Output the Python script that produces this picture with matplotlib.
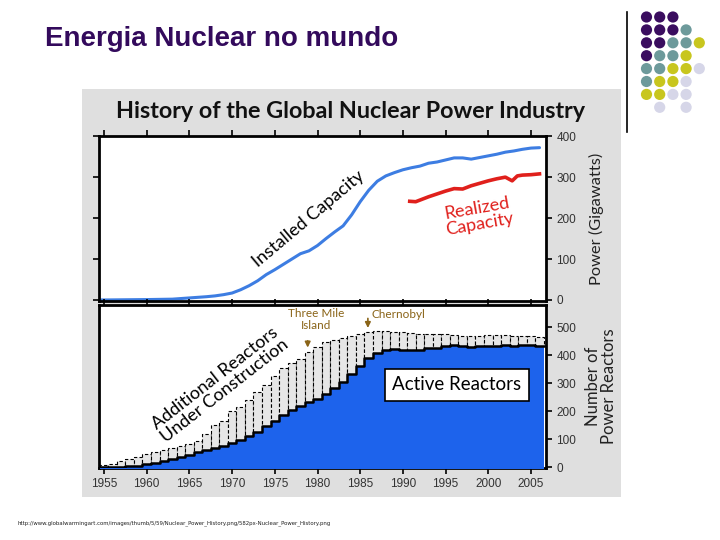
import numpy as np
import matplotlib.pyplot as plt
from matplotlib.patches import Rectangle, Circle

# installed capacity (GW)
cap_years = [1954.4, 1955, 1960, 1963, 1965, 1967, 1968, 1969, 1970, 1971, 1972, 1973,
             1974, 1975, 1976, 1977, 1978, 1979, 1980, 1981, 1982, 1983, 1984, 1985,
             1986, 1987, 1988, 1989, 1990, 1991, 1992, 1993, 1994, 1995, 1996, 1997,
             1998, 1999, 2000, 2001, 2002, 2003, 2004, 2005, 2006]
cap_installed = [0, 0, 1, 2, 5, 8, 10, 13, 17, 25, 35, 47,
                 62, 74, 87, 100, 113, 120, 133, 150, 166, 181, 208, 240,
                 268, 290, 303, 311, 318, 323, 327, 334, 337, 342, 347, 347,
                 344, 348, 352, 356, 361, 364, 368, 371, 372]

real_years = [1990.8, 1991.5, 1992, 1993, 1994, 1995, 1996, 1997, 1998, 1999, 2000,
              2001, 2002, 2002.8, 2003.4, 2004, 2005, 2006]
cap_realized = [241, 240, 244, 252, 259, 266, 272, 271, 279, 285, 291,
                296, 300, 291, 303, 305, 306, 308]

# number of reactors
reactor_years = np.arange(1955, 2007)
active = [1, 2, 3, 4, 6, 12, 16, 24, 30, 38, 46, 54, 62, 68, 76, 86, 98, 112, 128, 148,
          166, 186, 204, 220, 232, 246, 262, 282, 304, 334, 362, 390, 408, 420, 424, 420,
          418, 420, 426, 428, 432, 436, 434, 430, 432, 433, 435, 436, 434, 436, 437, 432]
total = [8, 14, 22, 30, 38, 48, 56, 62, 68, 75, 82, 96, 118, 150, 166, 200, 215, 240, 270, 296,
         326, 355, 372, 388, 412, 430, 447, 456, 463, 470, 478, 484, 488, 487, 485, 482,
         480, 478, 478, 476, 475, 474, 471, 469, 470, 472, 472, 473, 470, 470, 469, 467]

xticks = [1955, 1960, 1965, 1970, 1975, 1980, 1985, 1990, 1995, 2000, 2005]

purple = '#3a0d5f'
teal = '#6d9a9b'
yellow = '#c8c61e'
lav = '#d6d6e8'
dot_rows = [
    [purple, purple, purple, None, None],
    [purple, purple, purple, teal, None],
    [purple, purple, teal, teal, yellow],
    [purple, teal, teal, yellow, None],
    [teal, teal, yellow, yellow, lav],
    [teal, yellow, yellow, lav, None],
    [yellow, yellow, lav, lav, None],
    [None, lav, None, lav, None],
]

fig = plt.figure(figsize=(7.2, 5.4), dpi=100)

# slide layer in pixel coords
bg = fig.add_axes([0, 0, 1, 1], zorder=0)
bg.set_xlim(0, 720)
bg.set_ylim(540, 0)
bg.axis('off')
bg.add_patch(Rectangle((82, 89), 539, 408, facecolor='#dfdfdf', edgecolor='none'))
bg.text(45, 46, 'Energia Nuclear no mundo', fontsize=20, fontweight='bold',
        color='#330a5c', family='Liberation Sans', va='baseline')
bg.plot([627, 627], [12, 132], color='black', lw=1.2)
for r, row in enumerate(dot_rows):
    for c, col in enumerate(row):
        if col:
            bg.add_patch(Circle((646.5 + c * 13.2, 17 + r * 12.9), 5.6, color=col, lw=0))
bg.text(351, 111, 'History of the Global Nuclear Power Industry', fontsize=16.8,
        fontweight='bold', family='Lato', ha='center', va='center', color='#111111')
bg.text(18, 523, 'http://www.globalwarmingart.com/images/thumb/5/59/Nuclear_Power_History.png/582px-Nuclear_Power_History.png',
        fontsize=3.9, va='center', color='#222222')

tick_font = dict(family='Liberation Sans', size=8.5, color='#333333')

# top panel: power
ax1 = fig.add_axes([99 / 720, 1 - 301 / 540, 447 / 720, 165 / 540], zorder=2)
ax1.plot(cap_years, cap_installed, color='#3d7de2', lw=2.2, solid_capstyle='round')
ax1.plot(real_years, cap_realized, color='#e0201c', lw=2.6)
ax1.set_xlim(1954.41, 2006.76)
ax1.set_ylim(-2.5, 400.5)
ax1.set_xticks(xticks)
ax1.set_yticks([0, 100, 200, 300, 400])
ax1.tick_params(axis='x', top=True, bottom=False, labelbottom=False, direction='out',
                length=4, width=1.2)
ax1.tick_params(axis='y', left=True, right=True, labelleft=False, labelright=True,
                direction='out', length=4, width=1.2)
for lab in ax1.get_yticklabels():
    lab.set_fontproperties(tick_font['family'])
    lab.set_fontsize(tick_font['size'])
    lab.set_color(tick_font['color'])
for s in ax1.spines.values():
    s.set_linewidth(2)
ax1.yaxis.set_label_position('right')
ax1.set_ylabel('Power (Gigawatts)', family='Lato', fontsize=11.8, color='#222222',
               labelpad=9)
ax1.text(1978.9, 198, 'Installed Capacity', rotation=40, family='Lato', fontsize=13,
         ha='center', va='center', color='black')
ax1.text(1998.8, 205, 'Realized\nCapacity', rotation=10, family='Lato', fontsize=13,
         ha='center', va='center', color='#e0201c', linespacing=1.0)

# bottom panel: reactors
ax2 = fig.add_axes([99 / 720, 1 - 468 / 540, 447 / 720, 163 / 540], zorder=2)
yrs = np.asarray(reactor_years, dtype=float)
act = np.asarray(active, dtype=float)
tot = np.asarray(total, dtype=float)
ax2.bar(yrs, tot - act, bottom=act, width=1.0, color='#e6e6e6', edgecolor='black',
        linestyle=(0, (3, 2)), linewidth=0.8, zorder=2)
edges = np.append(yrs - 0.5, yrs[-1] + 0.5)
act_st = np.append(act, act[-1])
ax2.fill_between(edges, act_st, -5, step='post', color='#1d63ec', lw=0, zorder=3)
ax2.step(edges, act_st, where='post', color='black', lw=1.8, zorder=4)
ax2.set_xlim(1954.41, 2006.76)
ax2.set_ylim(-2, 580)
ax2.set_xticks(xticks)
ax2.set_yticks([0, 100, 200, 300, 400, 500])
ax2.tick_params(axis='x', top=True, bottom=True, direction='out', length=4, width=1.2,
                pad=3)
ax2.tick_params(axis='y', left=False, right=True, labelleft=False, labelright=True,
                direction='out', length=4, width=1.2)
for lab in ax2.get_yticklabels() + ax2.get_xticklabels():
    lab.set_fontproperties(tick_font['family'])
    lab.set_fontsize(tick_font['size'])
    lab.set_color(tick_font['color'])
for s in ax2.spines.values():
    s.set_linewidth(2)
ax2.yaxis.set_label_position('right')
ax2.set_ylabel('Number of\nPower Reactors', family='Lato', fontsize=12, color='#222222',
               labelpad=6, linespacing=1.0)
ax2.text(1968.6, 295, 'Additional Reactors\nUnder Construction', rotation=38,
         family='Lato', fontsize=13, ha='center', va='center', linespacing=1.0)
ax2.text(1996.3, 296, 'Active Reactors', family='Lato', fontsize=13.5, ha='center',
         va='center', zorder=6,
         bbox=dict(boxstyle='square,pad=0.4', facecolor='white', edgecolor='black', lw=1.2))
gold = '#8a6418'
ax2.annotate('', xy=(1978.85, 418), xytext=(1978.85, 462),
             arrowprops=dict(arrowstyle='-|>', color=gold, lw=1.2, mutation_scale=8))
ax2.text(1979.8, 528, 'Three Mile\nIsland', family='Lato', fontsize=8.5, color=gold,
         ha='center', va='center', linespacing=1.2)
ax2.annotate('', xy=(1985.9, 488), xytext=(1985.9, 542),
             arrowprops=dict(arrowstyle='-|>', color=gold, lw=1.2, mutation_scale=8))
ax2.text(1986.3, 545, 'Chernobyl', family='Lato', fontsize=8.5, color=gold,
         ha='left', va='center')

fig.savefig('out.png', dpi=100)
